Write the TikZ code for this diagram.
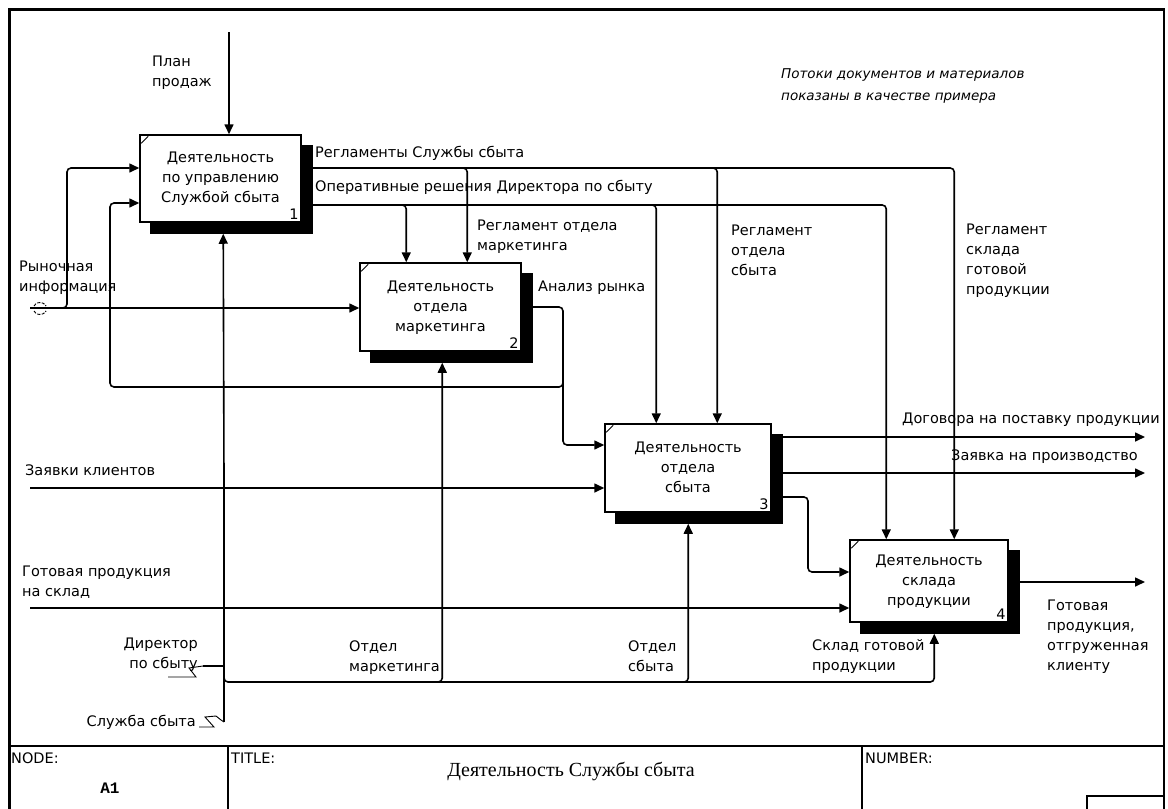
\documentclass[tikz,border=0pt]{standalone}
\usepackage{fontspec}
\setmainfont{DejaVu Sans}
\newfontfamily\titlefont{Liberation Serif}
\newfontfamily\codefont{Liberation Mono}
\usetikzlibrary{arrows.meta,calc}
\begin{document}
\begin{tikzpicture}[x=1pt,y=-1pt,
  lbl/.style={font=\fontsize{14.5}{20}\selectfont, inner sep=0pt, align=left},
  act/.style={draw, line width=1.5pt, fill=white, inner sep=0pt,
    font=\fontsize{14.5}{20}\selectfont, align=center,
    preaction={fill=black, draw=black, transform canvas={xshift=11pt,yshift=-11pt}}},
  num/.style={font=\fontsize{14.5}{16}\selectfont, inner sep=3pt, anchor=south east},
  flow/.style={line width=1.6pt, rounded corners=4pt},
  arr/.style={flow, -{Triangle[length=10pt,width=9pt]}},
  tick/.style={line width=0.9pt},
]
\useasboundingbox (0,0) rectangle (1168,809);
\fill[white] (0,0) rectangle (1168,809);

% frame and title block
\draw[line width=3.5pt] (9.5,809) -- (9.5,9.5) -- (1164,9.5);
\draw[line width=1.6pt] (1164,8) -- (1164,809);
\draw[line width=1.5pt] (8,746) -- (1164,746);
\draw[line width=1.5pt] (228,746) -- (228,809);
\draw[line width=1.5pt] (862,746) -- (862,809);
\draw[line width=1.5pt] (1087,809) |- (1164,796);
\node[lbl, anchor=west] (nodeL) at (11,758) {NODE:};
\node[font=\codefont\bfseries\fontsize{16}{16}\selectfont, inner sep=0pt] (nodeV) at (110,788) {A1};
\node[lbl, anchor=west] (titleL) at (231,758) {TITLE:};
\node[font=\titlefont\fontsize{20}{20}\selectfont, inner sep=0pt] (titleV) at (571,771) {Деятельность Службы сбыта};
\node[lbl, anchor=west] (numL) at (865,758) {NUMBER:};

% note
\node[lbl, anchor=west, font=\itshape\fontsize{13.5}{22}\selectfont] (note) at (781,86)
  {Потоки документов и материалов\\показаны в качестве примера};

% activity boxes
\node[act, minimum width=161pt, minimum height=87pt] (b1) at (220.5,178.5)
  {\raisebox{5pt}{\begin{tabular}{@{}c@{}}Деятельность\\по управлению\\Службой сбыта\end{tabular}}};
\node[act, minimum width=161pt, minimum height=88pt] (b2) at (440.5,307)
  {\raisebox{4pt}{\begin{tabular}{@{}c@{}}Деятельность\\отдела\\маркетинга\end{tabular}}};
\node[act, minimum width=166pt, minimum height=88pt] (b3) at (688,468)
  {\raisebox{6pt}{\begin{tabular}{@{}c@{}}Деятельность\\отдела\\сбыта\end{tabular}}};
\node[act, minimum width=158pt, minimum height=82pt] (b4) at (929,581)
  {\raisebox{7pt}{\begin{tabular}{@{}c@{}}Деятельность\\склада\\продукции\end{tabular}}};
\foreach \b/\n in {b1/1,b2/2,b3/3,b4/4}{
  \node[num] (n\b) at (\b.south east) {\n};
  \draw[tick] ($(\b.north west)+(2,9)$) -- ($(\b.north west)+(9,2)$);
}

% helper levels
\coordinate (yA) at (0,168);
\coordinate (yB) at (0,205);
\coordinate (yIn1) at (0,168);
\coordinate (yIn2) at (0,203);
\coordinate (yAn) at (0,307);
\coordinate (yAn3) at (0,445);
\coordinate (y3c) at (0,497);
\coordinate (y4in) at (0,572);
\coordinate (yMech) at (0,682);

% drop points
\coordinate (d2a) at ($(b2.north west)+(47,0)$);
\coordinate (d2b) at ($(b2.north west)+(108,0)$);
\coordinate (d3a) at ($(b3.north west)+(52,0)$);
\coordinate (d3b) at ($(b3.north west)+(113,0)$);
\coordinate (d4a) at ($(b4.north west)+(37,0)$);
\coordinate (d4b) at ($(b4.north west)+(105,0)$);
\coordinate (m1) at ($(b1.south west)+(84,11)$);
\coordinate (m2) at ($(b2.south west)+(83,11)$);
\coordinate (m3) at ($(b3.south west)+(84,11)$);
\coordinate (m4) at ($(b4.south west)+(85,11)$);

% free ends
\coordinate (planS) at (229,32);
\coordinate (mktS) at (30,308);
\coordinate (ordS) at (30,488);
\coordinate (gpS) at (30,608);
\coordinate (o1) at (1145,437);
\coordinate (o2) at (1145,473);
\coordinate (o4) at (1145,582);
\coordinate (sbS) at (224,722);
\coordinate (dirS) at (203,666);
\coordinate (mid1) at (224,480);

% controls
\draw[arr] (planS) -- (planS |- b1.north);
\draw[arr] (b1.east |- yA) -| (d4b);
\draw[arr] (b1.east |- yB) -| (d4a);
\draw[arr] ($(d2b |- yA)+(-6,0)$) -| (d2b);
\draw[arr] ($(d3b |- yA)+(-6,0)$) -| (d3b);
\draw[arr] ($(d2a |- yB)+(-6,0)$) -| (d2a);
\draw[arr] ($(d3a |- yB)+(-6,0)$) -| (d3a);

% inputs
\draw[arr] (mktS) -- (mktS -| b2.west);
\draw[arr] (60,308) -| (67,250) |- (b1.west |- yIn1);
\draw[arr] (b2.east |- yAn) -| (563,400) |- (b3.west |- yAn3);
\draw[arr] (563,376) |- (110,387) -- (110,203) -- (b1.west |- yIn2);
\draw[arr] (ordS) -- (ordS -| b3.west);
\draw[arr] (gpS) -- (gpS -| b4.west);
% tunnel mark
\draw[tick, dash pattern=on 3pt off 1.5pt] (34,306) arc[start angle=210, end angle=330, radius=7];
\draw[tick, dash pattern=on 3pt off 1.5pt] (34,311) arc[start angle=150, end angle=30, radius=7];

% outputs
\draw[arr] (b3.east |- o1) -- (o1);
\draw[arr] (b3.east |- o2) -- (o2);
\draw[arr] (b3.east |- y3c) -| (808,530) |- (b4.west |- y4in);
\draw[arr] (b4.east |- o4) -- (o4);

% mechanisms
\draw[flow] (sbS) -- (mid1);
\draw[arr] (mid1) -- (m1);
\draw[arr] (224,672) |- (m4 |- yMech) -- (m4);
\draw[arr] ($(m2 |- yMech)+(-6,0)$) -| (m2);
\draw[arr] ($(m3 |- yMech)+(-6,0)$) -| (m3);
\draw[flow] (dirS) -- (dirS -| sbS);
% squiggles
\draw[tick] (168,677) -- (196,677) -- (189,668) -- (dirS);
\draw[tick] (199,727) -- (214,727) -- (205,717) -- (216,716) -- (221,720) -- (sbS);

% labels
\node[lbl, anchor=west] (lPlan) at (152,73) {План\\продаж};
\node[lbl, anchor=west] (lReg) at (315,153) {Регламенты Службы сбыта};
\node[lbl, anchor=west] (lOper) at (315,187) {Оперативные решения Директора по сбыту};
\node[lbl, anchor=west] (lRegM) at (477,237) {Регламент отдела\\маркетинга};
\node[lbl, anchor=west] (lAn) at (538,288) {Анализ рынка};
\node[lbl, anchor=west] (lRegS) at (731,250) {Регламент\\отдела\\сбыта};
\node[lbl, anchor=west] (lRegW) at (966,261) {Регламент\\склада\\готовой\\продукции};
\node[lbl, anchor=west] (lMkt) at (19,278) {Рыночная\\информация};
\node[lbl, anchor=west] (lOrd) at (25,470) {Заявки клиентов};
\node[lbl, anchor=west] (lDog) at (902,420) {Договора на поставку продукции};
\node[lbl, anchor=west] (lZav) at (951,457) {Заявка на производство};
\node[lbl, anchor=west] (lGp) at (22,582) {Готовая продукция\\на склад};
\node[lbl, anchor=east, align=right] (lDir) at (198,655) {Директор\\по сбыту};
\node[lbl, anchor=east] (lSb) at (196,722) {Служба сбыта};
\node[lbl, anchor=west] (lOm) at (349,658) {Отдел\\маркетинга};
\node[lbl, anchor=west] (lOs) at (628,656) {Отдел\\сбыта};
\node[lbl, anchor=west] (lSk) at (812,656) {Склад готовой\\продукции};
\node[lbl, anchor=west] (lOut) at (1047,637) {Готовая\\продукция,\\отгруженная\\клиенту};
\end{tikzpicture}
\end{document}
